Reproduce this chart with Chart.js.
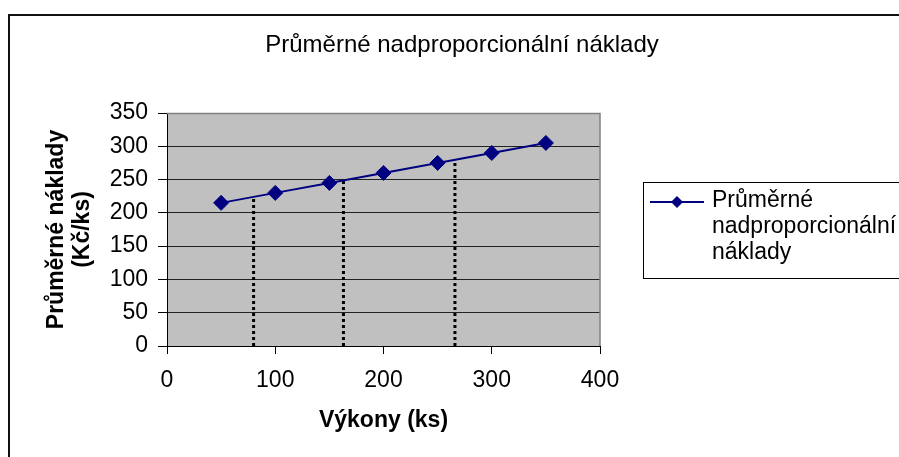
<!DOCTYPE html>
<html><head><meta charset="utf-8">
<script src="https://cdn.jsdelivr.net/npm/chart.js@4"></script>
<style>html,body{margin:0;padding:0;background:#fff;overflow:hidden}#wrap{width:899px;height:457px;position:relative}</style>
</head><body><div id="wrap"><canvas id="c" width="899" height="457"></canvas></div>
<script>
const CHART_TITLE = 'Průměrné nadproporcionální náklady';
const SERIES_LABEL = 'Průměrné nadproporcionální náklady';
const X_TITLE = 'Výkony (ks)';
const Y_TITLE = ['Průměrné náklady', '(Kč/ks)'];
const X_VALUES = [50, 100, 150, 200, 250, 300, 350];
const Y_VALUES = [215, 230, 245, 260, 275, 290, 305];
const GUIDE_X = [80, 163, 266];
const GUIDE_Y = [224, 249, 280];
const X_TICKS = [0, 100, 200, 300, 400];
const Y_TICKS = [0, 50, 100, 150, 200, 250, 300, 350];

const FONT = "'Liberation Sans', Arial, sans-serif";
const NAVY = '#000080';

const mainData = X_VALUES.map((x, i) => ({x: x, y: Y_VALUES[i]}));
const guideSets = GUIDE_X.map((gx, i) => ({
  label: 'guide' + i,
  data: [{x: gx, y: 0}, {x: gx, y: GUIDE_Y[i]}],
  showLine: true,
  borderColor: '#000',
  borderWidth: 3,
  borderDash: [3, 3],
  pointRadius: 0,
  fill: false
}));

const bgPlugin = {
  id: 'bg',
  beforeDraw(chart) {
    const {ctx, chartArea: a} = chart;
    ctx.save();
    ctx.fillStyle = '#C0C0C0';
    ctx.fillRect(a.left, a.top, a.right - a.left, a.bottom - a.top);
    ctx.restore();
  },
  beforeDatasetsDraw(chart) {
    const {ctx, chartArea: a} = chart;
    ctx.save();
    ctx.strokeStyle = '#808080';
    ctx.lineWidth = 1.5;
    ctx.beginPath();
    ctx.moveTo(a.left, a.top + 0.5);
    ctx.lineTo(a.right, a.top + 0.5);
    ctx.lineTo(a.right, a.bottom);
    ctx.stroke();
    ctx.restore();
  }
};

const framePlugin = {
  id: 'frame',
  afterDraw(chart) {
    const {ctx} = chart;
    ctx.save();
    ctx.strokeStyle = '#111';
    ctx.lineWidth = 2;
    ctx.beginPath();
    ctx.moveTo(9, 457);
    ctx.lineTo(9, 15);
    ctx.lineTo(899, 15);
    ctx.stroke();
    ctx.fillStyle = '#000';
    ctx.font = '24px ' + FONT;
    ctx.textAlign = 'center';
    ctx.textBaseline = 'middle';
    ctx.fillText(CHART_TITLE, 462, 45);
    ctx.restore();
  }
};

const legendPlugin = {
  id: 'customLegend',
  afterDraw(chart) {
    const {ctx} = chart;
    const ds = chart.data.datasets[0];
    ctx.save();
    ctx.strokeStyle = '#000';
    ctx.lineWidth = 1;
    ctx.strokeRect(643.5, 182.5, 300, 96);
    ctx.strokeStyle = ds.borderColor;
    ctx.lineWidth = 2;
    ctx.beginPath();
    ctx.moveTo(650, 202);
    ctx.lineTo(704, 202);
    ctx.stroke();
    ctx.fillStyle = ds.pointBackgroundColor;
    ctx.beginPath();
    ctx.moveTo(677, 196);
    ctx.lineTo(683, 202);
    ctx.lineTo(677, 208);
    ctx.lineTo(671, 202);
    ctx.closePath();
    ctx.fill();
    ctx.font = '23px ' + FONT;
    ctx.fillStyle = '#000';
    ctx.textAlign = 'left';
    ctx.textBaseline = 'middle';
    const words = ds.label.split(' ');
    const lines = [];
    let cur = '';
    words.forEach(w => {
      const t = cur ? cur + ' ' + w : w;
      if (cur && ctx.measureText(t).width > 185) { lines.push(cur); cur = w; } else { cur = t; }
    });
    if (cur) lines.push(cur);
    lines.forEach((l, i) => ctx.fillText(l, 712, 201 + i * 26));
    ctx.restore();
  }
};

new Chart(document.getElementById('c'), {
  type: 'scatter',
  data: {
    datasets: [{
      label: SERIES_LABEL,
      data: mainData,
      showLine: true,
      borderColor: NAVY,
      borderWidth: 2,
      pointStyle: 'rectRot',
      pointRadius: 7.5,
      pointBackgroundColor: NAVY,
      pointBorderColor: NAVY,
      pointBorderWidth: 1,
      fill: false
    }].concat(guideSets)
  },
  options: {
    responsive: false,
    animation: false,
    devicePixelRatio: 1,
    layout: {padding: {left: 0, top: 113, right: 299, bottom: 0}},
    plugins: {legend: {display: false}, title: {display: false}, tooltip: {enabled: false}},
    scales: {
      x: {
        type: 'linear', min: 0, max: 400,
        afterBuildTicks: s => { s.ticks = X_TICKS.map(v => ({value: v})); },
        afterFit: s => { s.height = 111; },
        grid: {drawOnChartArea: false, drawTicks: true, tickLength: 8, tickColor: '#000'},
        border: {color: '#000', width: 1},
        ticks: {font: {family: FONT, size: 23}, color: '#000', padding: 13, maxRotation: 0, autoSkip: false},
        title: {display: true, text: X_TITLE, color: '#000', font: {family: FONT, size: 23, weight: 'bold'}, padding: {top: 0, bottom: 23}}
      },
      y: {
        type: 'linear', min: 0, max: 350,
        afterBuildTicks: s => { s.ticks = Y_TICKS.map(v => ({value: v})); },
        afterFit: s => { s.width = 167; },
        grid: {color: c => (c.tick && c.tick.value === 350) ? '#808080' : '#222', tickColor: '#000', tickLength: 9, drawOnChartArea: true, lineWidth: 1},
        border: {color: '#000', width: 1},
        ticks: {font: {family: FONT, size: 23}, color: '#000', padding: 10, autoSkip: false},
        title: {display: true, text: Y_TITLE, color: '#000', font: {family: FONT, size: 23, weight: 'bold', lineHeight: 1.13}, padding: {top: 44, bottom: 0}}
      }
    }
  },
  plugins: [bgPlugin, framePlugin, legendPlugin]
});
</script>
</body></html>
